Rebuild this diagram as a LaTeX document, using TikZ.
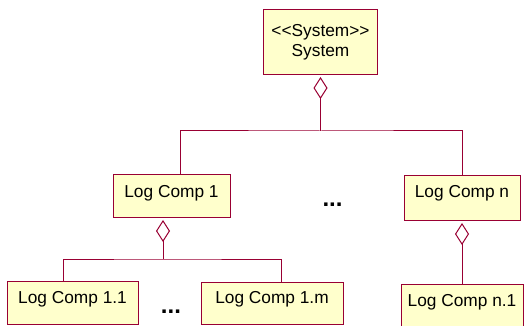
\documentclass[tikz,border=0pt]{standalone}
\usepackage{fontspec}
\setmainfont{Liberation Sans}
\usetikzlibrary{arrows.meta}
\definecolor{umlline}{HTML}{990033}
\definecolor{umlfill}{HTML}{FFFFCC}
\begin{document}
\begin{tikzpicture}[x=1pt,y=-1pt,
  cls/.style={draw=umlline, fill=umlfill, line width=1pt, inner sep=0pt,
    font=\fontsize{17.3}{20}\selectfont, align=center},
  link/.style={draw=umlline, line width=1pt},
  agg/.style={link, shorten >=1.5pt,
    -{Diamond[open, length=22pt, width=14pt, line width=1pt]}},
  dots/.style={font=\fontsize{24}{24}\selectfont\bfseries, inner sep=0pt, anchor=base}]
\useasboundingbox (0,0) rectangle (528,326);
\clip (0,0) rectangle (528,326);

% classes
\node[cls, minimum width=114pt, minimum height=65pt] (sys) at (320.5,42.5)
  {{<}{<}System{>}{>}\\System};
\node[cls, minimum width=117pt, text height=23pt, text depth=20pt] (c1) at (171.5,196.5) {Log Comp 1};
\node[cls, minimum width=116pt, text height=22pt, text depth=23pt] (cn) at (462,198.5) {Log Comp n};
\node[cls, minimum width=131pt, text height=22pt, text depth=21pt] (c11) at (72.5,302.5) {Log Comp 1.1};
\node[cls, minimum width=142pt, text height=21pt, text depth=21pt] (c1m) at (272,303) {Log Comp 1.m};
\node[cls, minimum width=122pt, text height=22pt, text depth=23pt] (cn1) at (462,306.5) {Log Comp n.1};

% ellipses for omitted classes
\node[dots] (d1) at (332.5,207) {...};
\node[dots] (d2) at (171,313) {...};

% junctions of the aggregation trees
\coordinate (j0) at (320.5,131);
\coordinate (j1) at (163,259);

% System aggregates the top-level components
\draw[agg] (j0) -- (sys.south);
\draw[link] ([xshift=8.5pt]c1.north) |- (j0) -| (cn.north);

% Log Comp 1 aggregates its sub-components
\draw[agg] (j1) -- ([xshift=-8.5pt]c1.south);
\draw[link] ([xshift=-9.5pt]c11.north) |- (j1) -| ([xshift=9pt]c1m.north);

% Log Comp n aggregates its sub-component
\draw[agg] (cn1.north) -- (cn.south);
\end{tikzpicture}
\end{document}
